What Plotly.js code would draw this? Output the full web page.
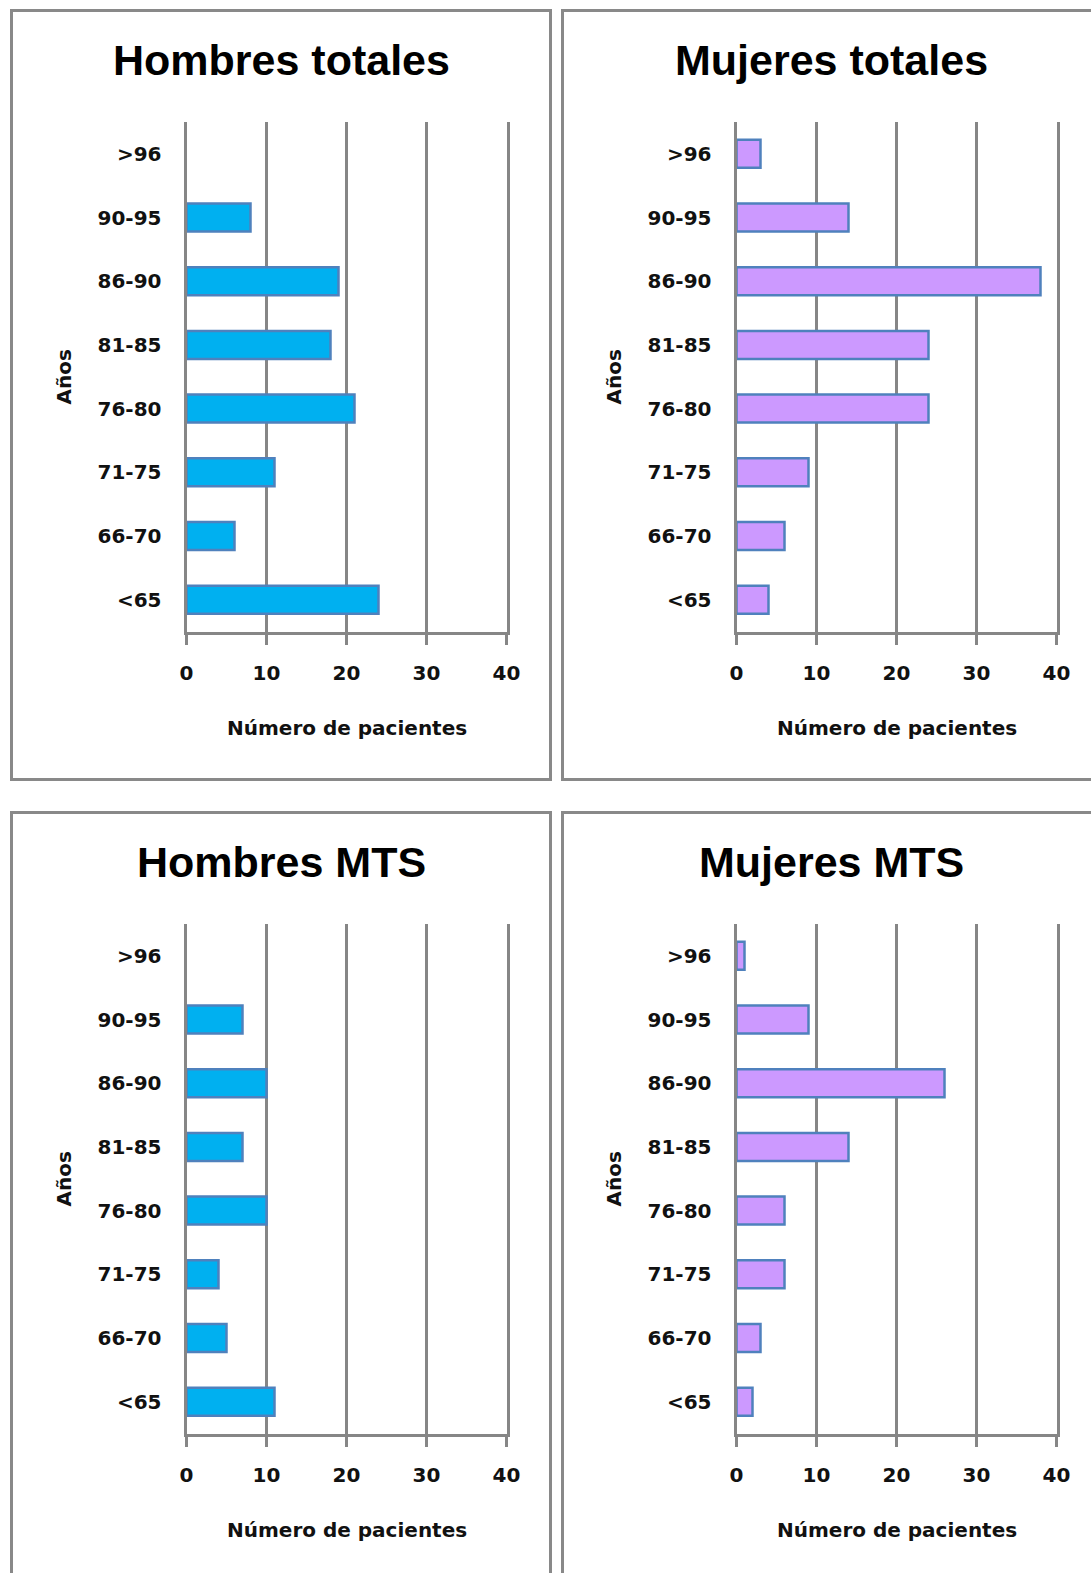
<!DOCTYPE html>
<html><head><meta charset="utf-8">
<script src="https://cdn.plot.ly/plotly-3.0.1.min.js"></script>
<style>html,body{margin:0;padding:0;background:#fff}</style>
</head><body><div id="chart" style="width:1091px;height:1573px"></div>
<script>
// ---- data ----
const ageGroups = ['<65', '66-70', '71-75', '76-80', '81-85', '86-90', '90-95', '>96'];
const hombresTotales = [24, 6, 11, 21, 18, 19, 8, 0];
const mujeresTotales = [4, 6, 9, 24, 24, 38, 14, 3];
const hombresMTS = [11, 5, 4, 10, 7, 10, 7, 0];
const mujeresMTS = [2, 3, 6, 6, 14, 26, 9, 1];
const panelTitles = ['Hombres totales', 'Mujeres totales', 'Hombres MTS', 'Mujeres MTS'];
const xTickVals = [0, 10, 20, 30, 40];
const xTitle = 'Número de pacientes';
const yTitle = 'Años';

// ---- styling ----
const W = 1091, H = 1573;
const px = v => v / W;
const py = v => 1 - v / H;
const GRID = '#868686';
const BORDER = '#898989';
const BAR_LINE = '#4F81BD';
const BLUE = '#00B0F0';
const PURPLE = '#CC99FF';
const tickFont = {family: 'DejaVu Sans', size: 20, color: '#111', weight: 'bold'};
const titleFont = {family: 'Liberation Sans', size: 43, color: '#000', weight: 'bold'};

const panels = [
  {vals: hombresTotales, color: BLUE, xl: 186.5, xr: 506.5, yt: 122, yb: 631.5, cx: 281, ty: 60},
  {vals: mujeresTotales, color: PURPLE, xl: 736.5, xr: 1056.5, yt: 122, yb: 631.5, cx: 831, ty: 60},
  {vals: hombresMTS, color: BLUE, xl: 186.5, xr: 506.5, yt: 924, yb: 1433.5, cx: 281, ty: 862},
  {vals: mujeresMTS, color: PURPLE, xl: 736.5, xr: 1056.5, yt: 924, yb: 1433.5, cx: 831, ty: 862}
];

const data = [];
const layout = {
  width: W, height: H,
  margin: {l: 0, r: 0, t: 0, b: 0},
  paper_bgcolor: '#fff', plot_bgcolor: '#fff',
  showlegend: false,
  bargap: 0.56,
  annotations: [],
  shapes: []
};

panels.forEach((p, i) => {
  const n = i + 1;
  const xa = n === 1 ? 'x' : 'x' + n;
  const ya = n === 1 ? 'y' : 'y' + n;
  data.push({
    type: 'bar', orientation: 'h',
    x: p.vals, y: ageGroups,
    xaxis: xa, yaxis: ya,
    marker: {color: p.color, line: {color: BAR_LINE, width: p.vals.map(v => v > 0 ? 2.5 : 0)}},
    hoverinfo: 'x+y'
  });
  layout[n === 1 ? 'xaxis' : 'xaxis' + n] = {
    domain: [px(p.xl), px(p.xr)],
    anchor: ya,
    range: [0, 40], tickvals: xTickVals, ticktext: xTickVals.map(String),
    showgrid: true, gridcolor: GRID, gridwidth: 3,
    zeroline: false,
    showline: true, linecolor: GRID, linewidth: 3,
    ticks: 'outside', ticklen: 10, tickwidth: 3, tickcolor: GRID,
    ticklabelstandoff: 11,
    tickfont: tickFont,
    fixedrange: true
  };
  layout[n === 1 ? 'yaxis' : 'yaxis' + n] = {
    domain: [py(p.yb), py(p.yt)],
    anchor: xa,
    type: 'category',
    categoryorder: 'array', categoryarray: ageGroups,
    range: [-0.5, 7.5],
    showgrid: false, zeroline: false,
    showline: true, mirror: true, linecolor: GRID, linewidth: 3,
    ticks: '', ticklabelstandoff: 18,
    tickfont: tickFont,
    fixedrange: true
  };
  // panel title
  layout.annotations.push({
    xref: 'paper', yref: 'paper', x: px(p.cx), y: py(p.ty),
    xanchor: 'center', yanchor: 'middle',
    text: panelTitles[i], showarrow: false, font: titleFont
  });
  // x-axis title
  layout.annotations.push({
    xref: 'paper', yref: 'paper', x: px((p.xl + p.xr) / 2), y: py(p.yb + 96),
    xanchor: 'center', yanchor: 'middle',
    text: xTitle, showarrow: false, font: tickFont
  });
  // y-axis title
  layout.annotations.push({
    xref: 'paper', yref: 'paper', x: px(p.xl - 123), y: py(p.yt + 255),
    xanchor: 'center', yanchor: 'middle', textangle: -90,
    text: yTitle, showarrow: false, font: tickFont
  });
});

// panel borders
[[11.5, 550.5, 10.5, 779.5], [562.5, 1115, 10.5, 779.5],
 [11.5, 550.5, 812.5, 1600], [562.5, 1115, 812.5, 1600]].forEach(b => {
  layout.shapes.push({
    type: 'rect', xref: 'paper', yref: 'paper',
    x0: px(b[0]), x1: px(b[1]), y0: py(b[3]), y1: py(b[2]),
    line: {color: BORDER, width: 3}, fillcolor: 'rgba(0,0,0,0)', layer: 'below'
  });
});

Plotly.newPlot('chart', data, layout, {displayModeBar: false, staticPlot: true});
</script>
</body></html>
